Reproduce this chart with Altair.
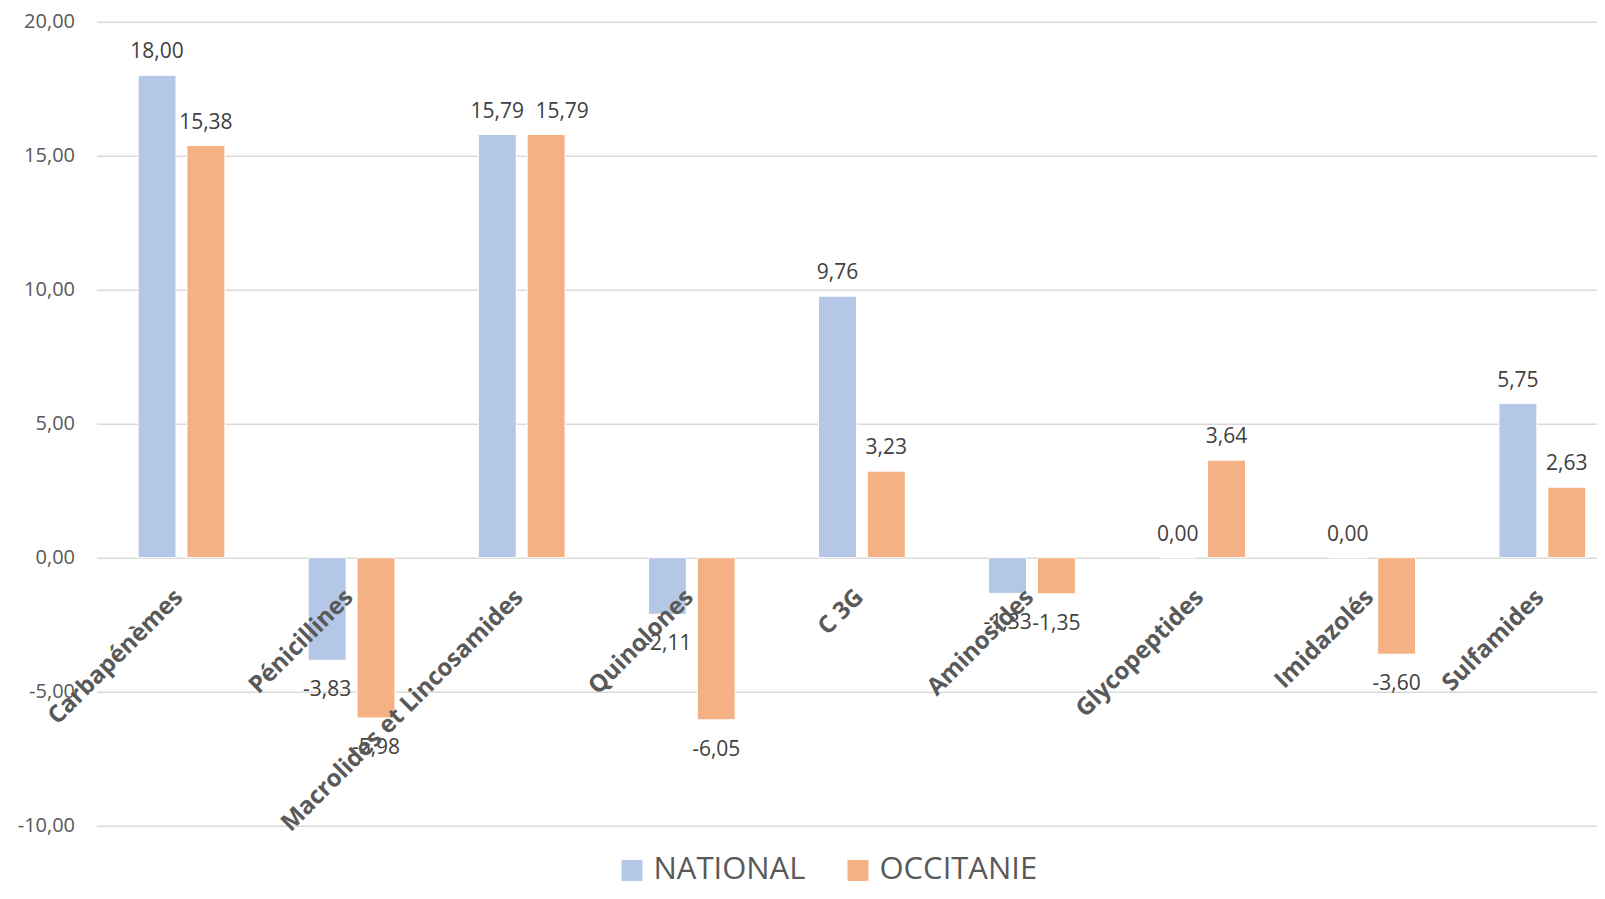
import altair as alt
import pandas as pd

categories = ["Carbapénèmes", "Pénicillines", "Macrolides et Lincosamides", "Quinolones",
              "C 3G", "Aminosides", "Glycopeptides", "Imidazolés", "Sulfamides"]
series = ["NATIONAL", "OCCITANIE"]
national = [18.00, -3.83, 15.79, -2.11, 9.76, -1.33, 0.00, 0.00, 5.75]
occitanie = [15.38, -5.98, 15.79, -6.05, 3.23, -1.35, 3.64, -3.60, 2.63]
colors = ["#B4C7E7", "#F4B183"]
y_ticks = [-10, -5, 0, 5, 10, 15, 20]

rows = []
for i, c in enumerate(categories):
    rows.append({"category": c, "series": series[0], "value": national[i]})
    rows.append({"category": c, "series": series[1], "value": occitanie[i]})
df = pd.DataFrame(rows)
cat_df = pd.DataFrame({"category": categories})

FONT = "Open Sans"
fmt = "replace(replace(format(datum.value, '.2f'), '.', ','), '\u2212', '-')"

x_enc = alt.X("category:N", sort=categories, axis=None,
              scale=alt.Scale(paddingInner=0.49, paddingOuter=0.154, align=0.794))
xoff = alt.XOffset("series:N", sort=series,
                   scale=alt.Scale(paddingInner=0.224, paddingOuter=0))
y_scale = alt.Scale(domain=[-10, 20], nice=False, zero=False)

bars = alt.Chart(df).mark_bar(stroke="white", strokeWidth=1).encode(
    x=x_enc,
    xOffset=xoff,
    y=alt.Y("value:Q", scale=y_scale, title=None,
            axis=alt.Axis(values=y_ticks, labelExpr=fmt, ticks=False, domain=False,
                          labelPadding=22, labelFontSize=20, labelFont=FONT,
                          labelColor="#595959", gridColor="#D9D9D9", gridWidth=1.5)),
    color=alt.Color("series:N", sort=series,
                    scale=alt.Scale(domain=series, range=colors),
                    legend=alt.Legend(title=None, orient="none", direction="horizontal",
                                      legendX=520, legendY=833, symbolType="square",
                                      symbolSize=441, symbolStrokeWidth=0,
                                      labelFontSize=31, labelFont=FONT, labelLimit=400,
                                      labelColor="#595959", columnPadding=37,
                                      labelOffset=6, padding=0)),
)

base_lbl = alt.Chart(df).transform_calculate(
    label="replace(replace(format(datum.value, '.2f'), '.', ','), '\u2212', '-')"
)
shifted = "datum.category == 'Macrolides et Lincosamides' && datum.series == 'OCCITANIE'"

pos_labels = base_lbl.transform_filter(f"datum.value >= 0 && !({shifted})").mark_text(
    baseline="alphabetic", dy=-17, fontSize=21, font=FONT, color="#404040"
).encode(x=x_enc, xOffset=xoff, y=alt.Y("value:Q", scale=y_scale), text="label:N")

shift_labels = base_lbl.transform_filter(shifted).mark_text(
    baseline="alphabetic", dy=-17, dx=16, fontSize=21, font=FONT, color="#404040"
).encode(x=x_enc, xOffset=xoff, y=alt.Y("value:Q", scale=y_scale), text="label:N")

neg_labels = base_lbl.transform_filter("datum.value < 0").mark_text(
    baseline="alphabetic", dy=36, fontSize=21, font=FONT, color="#404040"
).encode(x=x_enc, xOffset=xoff, y=alt.Y("value:Q", scale=y_scale), text="label:N")

cat_labels = alt.Chart(cat_df).mark_text(
    angle=315, align="right", baseline="middle", dy=24, dx=-27,
    fontSize=24, fontWeight="bold", font=FONT, color="#595959"
).encode(x=x_enc, y=alt.datum(0, scale=y_scale), text="category:N")

chart = alt.layer(bars, pos_labels, shift_labels, neg_labels, cat_labels).properties(
    width=1500, height=804,
    autosize=alt.AutoSizeParams(type="none"),
    padding={"left": 88.5, "top": 13.7, "right": 0, "bottom": 65},
).configure_view(stroke=None)

chart.save("out.html", embed_options={"renderer": "svg", "actions": False})
